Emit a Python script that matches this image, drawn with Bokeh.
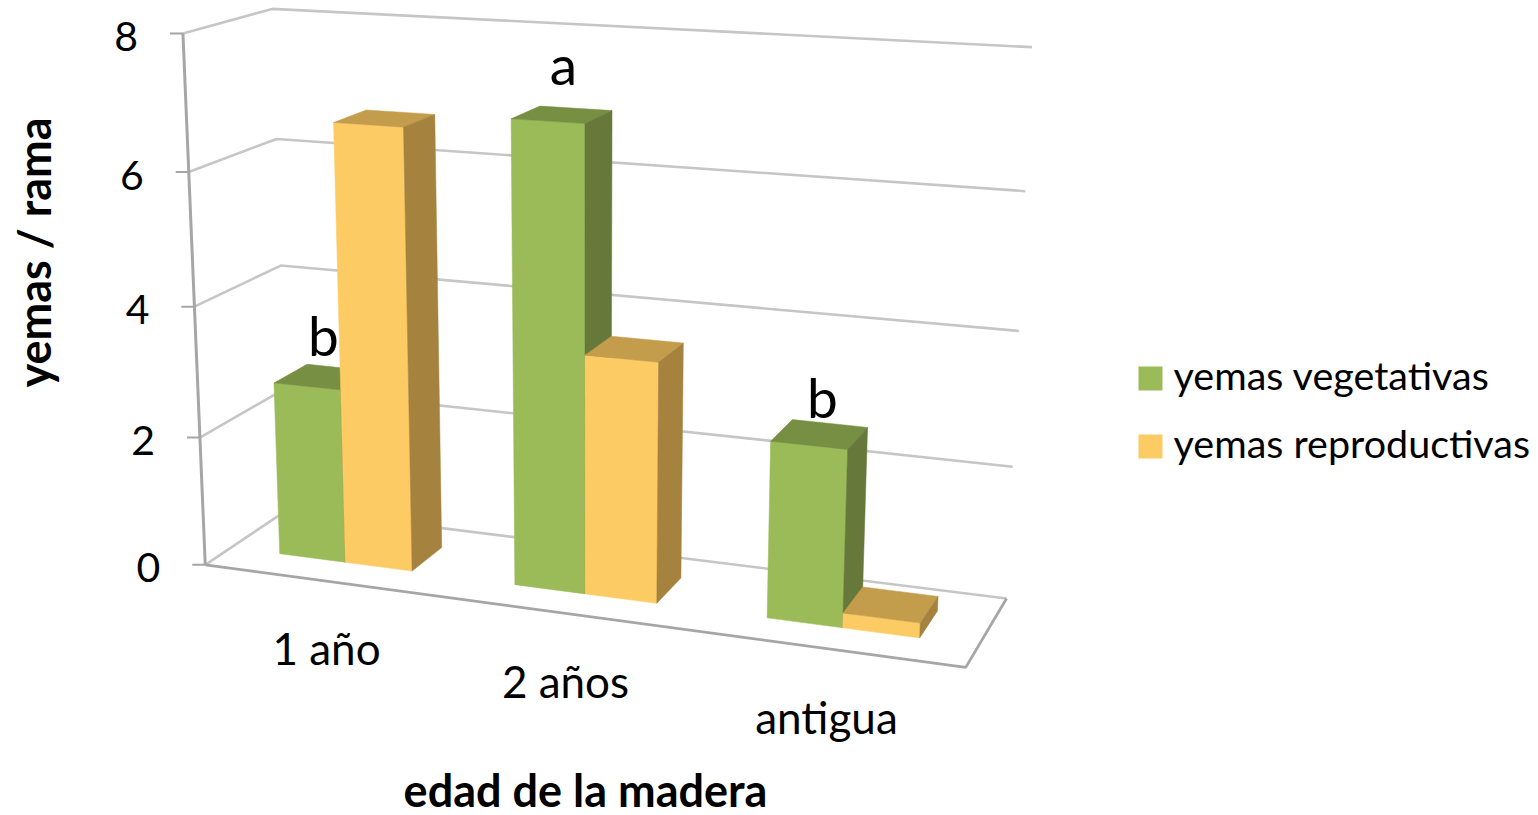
import numpy as np
from bokeh.core.properties import value
from bokeh.embed import file_html
from bokeh.models import Range1d
from bokeh.plotting import figure
from bokeh.resources import INLINE

categories = ["1 año", "2 años", "antigua"]
series_names = ["yemas vegetativas", "yemas reproductivas"]
vegetativas = [2.7, 6.92, 2.62]
reproductivas = [6.7, 3.6, 0.22]
letters = ["b", "a", "b"]
y_ticks = [0, 2, 4, 6, 8]
x_title = "edad de la madera"
y_title = "yemas / rama"

GREEN = ("#9BBB59", "#768F42", "#66793A")
GOLD = ("#FDCB64", "#C39C4C", "#A5823E")
FONT = "Lato"

# camera of the 3D box: (category pos, value, depth) <-> page pixel
calib = [
    (0, 8, 0, 182, 33), (0, 6, 0, 188, 172), (0, 4, 0, 195, 305), (0, 2, 0, 199, 437), (0, 0, 0, 205, 565),
    (0, 8, 1, 272, 9), (0, 6, 1, 276, 138), (0, 4, 1, 280, 265),
    (3, 8, 1, 1031, 47), (3, 6, 1, 1025, 190), (3, 4, 1, 1019, 331), (3, 2, 1, 1013, 466), (3, 0, 1, 1005, 598),
    (3, 0, 0, 965, 667),
]
A, b = [], []
for X, Y, Z, u, v in calib:
    A.append([X, Y, Z, 1, 0, 0, 0, 0, -u * X, -u * Y, -u * Z]); b.append(u)
    A.append([0, 0, 0, 0, X, Y, Z, 1, -v * X, -v * Y, -v * Z]); b.append(v)
h = np.linalg.lstsq(np.array(A, float), np.array(b, float), rcond=None)[0]
P = np.append(h, 1.0).reshape(3, 4)


def proj(X, Y, Z):
    q = P @ np.array([X, Y, Z, 1.0])
    return q[0] / q[2], q[1] / q[2]


def path(points):
    pts = [proj(*pt) for pt in points]
    return [a for a, _ in pts], [c for _, c in pts]


p = figure(width=1538, height=815, x_range=Range1d(0, 1538), y_range=Range1d(815, 0),
           output_backend="svg", toolbar_location=None, min_border=0)
p.axis.visible = False
p.grid.visible = False
p.outline_line_color = None
p.background_fill_color = "white"

GRID = "#C6C6C6"
AXIS = "#A6A6A6"
# back wall + side wall gridlines
for t in y_ticks:
    xs, ys = path([(0, t, 0), (0, t, 1), (3, t, 1)])
    p.line(xs, ys, line_color=GRID, line_width=2.6)
# floor outline
xs, ys = path([(0, 0, 0), (3, 0, 0), (3, 0, 1)])
p.line(xs, ys, line_color=AXIS, line_width=2.8)
xs, ys = path([(0, 0, 0), (0, 8, 0)])
p.line(xs, ys, line_color=AXIS, line_width=3)
# tick marks and labels
for t in y_ticks:
    a, c = proj(0, t, 0)
    p.line([a - 13, a], [c, c], line_color=AXIS, line_width=2)
    p.text([a - 45], [c + 3], text=[str(t)], text_font=value(FONT), text_font_size="41px",
           text_align="right", text_baseline="middle", text_color="black")

# bars
BAR = 1 / 3.5
Z0, Z1 = 0.3, 0.7
xs_all, ys_all, cols = [], [], []
for i in range(3):
    for s, (vals, cc) in enumerate([(vegetativas, GREEN), (reproductivas, GOLD)]):
        x0 = i + 0.75 * BAR + s * BAR
        x1 = x0 + BAR
        v = vals[i]
        faces = [
            ([(x0, 0, Z0), (x1, 0, Z0), (x1, v, Z0), (x0, v, Z0)], cc[0]),
            ([(x0, v, Z0), (x1, v, Z0), (x1, v, Z1), (x0, v, Z1)], cc[1]),
            ([(x1, 0, Z0), (x1, 0, Z1), (x1, v, Z1), (x1, v, Z0)], cc[2]),
        ]
        for f, col in faces:
            a, c = path(f)
            xs_all.append(a); ys_all.append(c); cols.append(col)
p.patches(xs_all, ys_all, fill_color=cols, line_color=cols, line_width=0.5)

# significance letters
for txt, a, c in zip(letters, [323, 563, 822], [334, 63, 396]):
    p.text([a], [c], text=[txt], text_font=value(FONT), text_font_size="55px",
           text_align="center", text_baseline="middle", text_color="black")

# category labels
for txt, a, c in zip(categories, [326, 565, 826], [647, 680, 716]):
    p.text([a], [c], text=[txt], text_font=value(FONT), text_font_size="44px",
           text_align="center", text_baseline="middle", text_color="black")

# titles
p.text([585], [789], text=[x_title], text_font=value(FONT), text_font_size="45px", text_font_style="bold",
       text_align="center", text_baseline="middle", text_color="black")
p.text([33], [252], text=[y_title], text_font=value(FONT), text_font_size="45px", text_font_style="bold",
       text_align="center", text_baseline="middle", text_color="black", angle=np.pi / 2)

# legend
for name, col, c, ty in zip(series_names, [GREEN[0], GOLD[0]], [378, 446], [374, 442]):
    p.rect([1150], [c], width=24, height=24, fill_color=col, line_color=None)
    p.text([1173], [ty], text=[name], text_font=value(FONT), text_font_size="39.5px",
           text_align="left", text_baseline="middle", text_color="black")

open("out.html", "w").write(file_html(p, INLINE))
